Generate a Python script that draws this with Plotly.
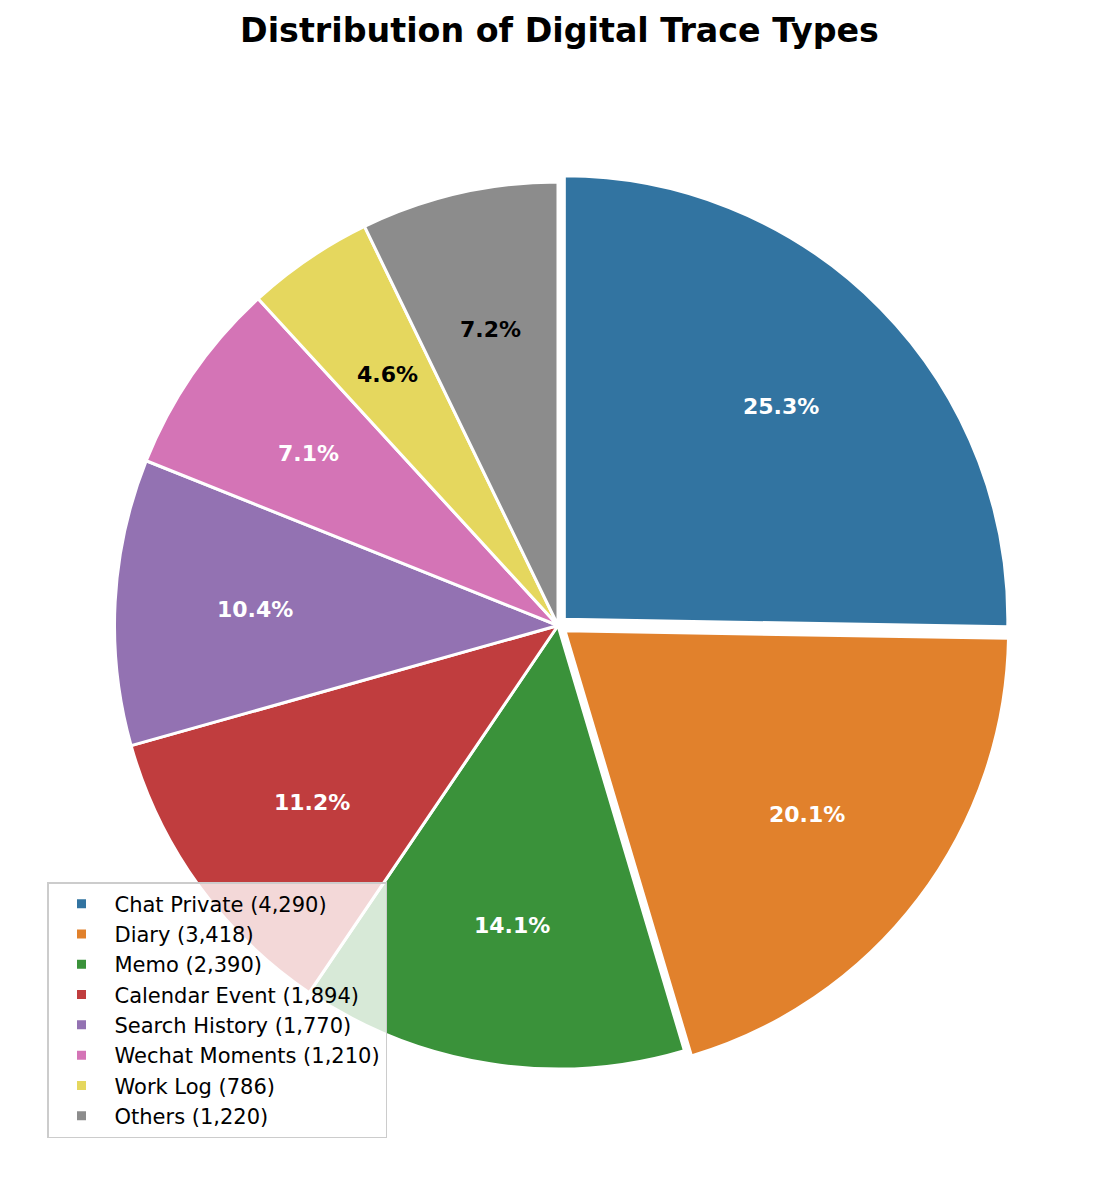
import math

import plotly.graph_objects as go

# data
categories = ["Chat Private", "Diary", "Memo", "Calendar Event",
              "Search History", "Wechat Moments", "Work Log", "Others"]
counts = [4290, 3418, 2390, 1894, 1770, 1210, 786, 1220]
colors = ["#3274A1", "#E1812C", "#3A923A", "#C03D3E",
          "#9372B2", "#D474B6", "#E5D75E", "#8C8C8C"]
pulls = [0.02, 0.02, 0, 0, 0, 0, 0, 0]
text_colors = ["white"] * 6 + ["black", "black"]

# the page body has an 8px margin, so the figure is shrunk and offset
OFF = 8
W, H = 1119 - 2 * OFF, 1186 - 2 * OFF
cx, cy = 558.0, 625.5      # pie centre in page pixels
radius = 443.5
pct_distance = 0.684


def to_paper(px, py):
    return (px - OFF) / W, 1 - (py - OFF) / H


labels = [f"{name} ({value:,})" for name, value in zip(categories, counts)]
half = radius * (1 + max(pulls))
x0, y1 = to_paper(cx - half, cy - half)
x1, y0 = to_paper(cx + half, cy + half)

fig = go.Figure()
fig.add_trace(
    go.Pie(
        labels=labels,
        values=counts,
        sort=False,
        direction="clockwise",
        rotation=0,
        pull=pulls,
        marker={"colors": colors, "line": {"color": "white", "width": 3}},
        textinfo="none",
        domain={"x": [x0, x1], "y": [y0, y1]},
    )
)

# percentage labels placed like matplotlib autopct
total = sum(counts)
cumulative = 0
for value, pull, tcolor in zip(counts, pulls, text_colors):
    mid = (cumulative + value / 2) / total * 2 * math.pi
    cumulative += value
    dist = radius * (pct_distance + pull)
    ax, ay = to_paper(cx + dist * math.sin(mid), cy - dist * math.cos(mid))
    fig.add_annotation(
        x=ax,
        y=ay,
        xref="paper",
        yref="paper",
        xanchor="center",
        yanchor="middle",
        text=f"<b>{value / total * 100:.1f}%</b>",
        showarrow=False,
        font={"size": 22, "color": tcolor, "family": "DejaVu Sans"},
    )

lx, ly = to_paper(47, 1138)
tx, ty = to_paper(559.5, 30)

fig.update_layout(
    width=W,
    height=H,
    margin={"l": 0, "r": 0, "t": 0, "b": 0},
    paper_bgcolor="white",
    font={"family": "DejaVu Sans", "color": "black"},
    title={
        "text": "<b>Distribution of Digital Trace Types</b>",
        "x": tx,
        "xanchor": "center",
        "y": ty,
        "yanchor": "middle",
        "font": {"size": 33.3, "family": "DejaVu Sans"},
    },
    legend={
        "x": lx,
        "y": ly,
        "xanchor": "left",
        "yanchor": "bottom",
        "bgcolor": "rgba(255,255,255,0.8)",
        "bordercolor": "#cccccc",
        "borderwidth": 1.5,
        "itemwidth": 56,
        "font": {"size": 21, "family": "DejaVu Sans"},
    },
)

fig.write_html("out.html")
